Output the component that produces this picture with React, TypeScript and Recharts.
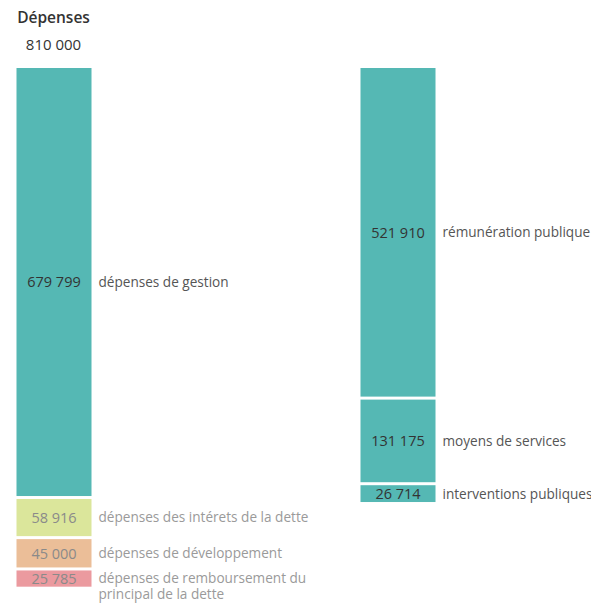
import { BarChart, Bar, XAxis, YAxis } from 'recharts';

const TOTAL = 810000;
const TITLE = 'Dépenses';

// left column: total spending split
const leftKeys = ['gestion', 'interets', 'developpement', 'remboursement'];
const leftLabels = [
  'dépenses de gestion',
  'dépenses des intérets de la dette',
  'dépenses de développement',
  'dépenses de remboursement du\nprincipal de la dette',
];
const leftValues = [679799, 58916, 45000, 25785];
const leftColors = ['#55b8b4', '#dbe69b', '#ebbe98', '#eb9a9f'];
const leftMuted = [false, true, true, true];

// right column: detail of dépenses de gestion
const rightKeys = ['remuneration', 'moyens', 'interventions'];
const rightLabels = ['rémunération publique', 'moyens de services', 'interventions publiques'];
const rightValues = [521910, 131175, 26714];
const rightColors = ['#55b8b4', '#55b8b4', '#55b8b4'];

const FONT = '"Open Sans", sans-serif';
const GAP = 3;
const BAR_W = 75;
const TOP = 60;
const PLOT_H = 510;

const fmt = (v: number) => String(v).replace(/\B(?=(\d{3})+(?!\d))/g, ' ');

function toRow(keys: string[], values: number[]) {
  const row: Record<string, number | string> = { name: TITLE };
  keys.forEach((k, i) => (row[k] = values[i]));
  return [row];
}

// segment with a white gap above it, value inside and name to the right
const segment = (i: number, value: number, label: string, color: string, muted: boolean) => (props: any) => {
  const x = Number(props.x);
  const w = Number(props.width);
  const y0 = Number(props.y);
  const h0 = Number(props.height);
  const top = Math.min(y0, y0 + h0) + i * GAP;
  const h = Math.abs(h0);
  const cx = x + w / 2;
  const left = cx - BAR_W / 2;
  const cy = top + h / 2;
  const lx = left + BAR_W + 7;
  const lines = label.split('\n');
  return (
    <g>
      <rect x={left} y={top} width={BAR_W} height={h} fill={color} />
      <text
        x={cx}
        y={cy}
        dy="0.36em"
        textAnchor="middle"
        fill={muted ? '#8a8a8a' : '#333333'}
        fontSize={14.5}
        fontFamily={FONT}
      >
        {fmt(value)}
      </text>
      <text x={lx} y={cy} fill={muted ? '#9a9a9a' : '#555555'} fontSize={13.6} fontFamily={FONT}>
        {lines.map((l, j) => (
          <tspan key={j} x={lx} dy={j === 0 ? '0.36em' : 16}>
            {l}
          </tspan>
        ))}
      </text>
    </g>
  );
};

function Column({ keys, values, labels, colors, muted, width }: {
  keys: string[]; values: number[]; labels: string[]; colors: string[]; muted: boolean[]; width: number;
}) {
  return (
    <BarChart
      width={width}
      height={603}
      data={toRow(keys, values)}
      margin={{ top: TOP, right: width - 120, bottom: 603 - TOP - PLOT_H, left: 0 }}
      barCategoryGap={0}
    >
      <XAxis dataKey="name" hide />
      <YAxis type="number" domain={[0, TOTAL]} reversed hide />
      {keys.map((k, i) => (
        <Bar
          key={k}
          dataKey={k}
          stackId="a"
          fill={colors[i]}
          isAnimationActive={false}
          shape={segment(i, values[i], labels[i], colors[i], muted[i])}
        />
      ))}
    </BarChart>
  );
}

export default function App() {
  return (
    <div style={{ position: 'relative', width: 583, height: 595, fontFamily: FONT }}>
      <div style={{ position: 'absolute', left: 0, top: 0 }}>
        <div style={{ position: 'relative', left: -14.5 }}>
          <Column
            keys={leftKeys}
            values={leftValues}
            labels={leftLabels}
            colors={leftColors}
            muted={leftMuted}
            width={340}
          />
        </div>
      </div>
      <div style={{ position: 'absolute', left: 330, top: 0 }}>
        <Column
          keys={rightKeys}
          values={rightValues}
          labels={rightLabels}
          colors={rightColors}
          muted={[false, false, false]}
          width={260}
        />
      </div>
      <div
        style={{
          position: 'absolute',
          left: 8,
          top: -4,
          width: 75,
          textAlign: 'center',
          color: '#333',
          lineHeight: '27px',
        }}
      >
        <div style={{ fontSize: 15.5, fontWeight: 600 }}>{TITLE}</div>
        <div style={{ fontSize: 15, fontWeight: 400 }}>{fmt(TOTAL)}</div>
      </div>
    </div>
  );
}
